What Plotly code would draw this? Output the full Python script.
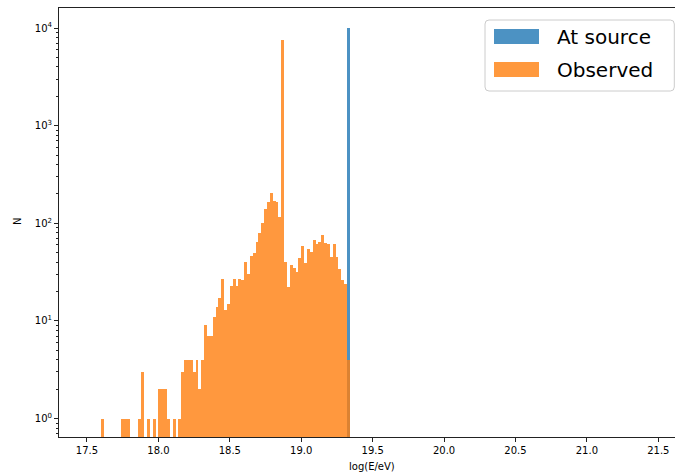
import plotly.graph_objects as go

# Histogram of log10 energy, fixed-width bins (lower edge of each non-empty bin + count)
bin_width = 0.02

observed_lo = [
    17.60, 17.74, 17.76, 17.78, 17.86, 17.88, 17.92, 17.96, 18.00, 18.02,
    18.04, 18.06, 18.10, 18.14, 18.16, 18.18, 18.20, 18.22, 18.24, 18.26,
    18.28, 18.30, 18.32, 18.34, 18.36, 18.38, 18.40, 18.42, 18.44, 18.46,
    18.48, 18.50, 18.52, 18.54, 18.56, 18.58, 18.60, 18.62, 18.64, 18.66,
    18.68, 18.70, 18.72, 18.74, 18.76, 18.78, 18.80, 18.82, 18.84, 18.86,
    18.88, 18.90, 18.92, 18.94, 18.96, 18.98, 19.00, 19.02, 19.04, 19.06,
    19.08, 19.10, 19.12, 19.14, 19.16, 19.18, 19.20, 19.22, 19.24, 19.26,
    19.28, 19.30, 19.32,
]
observed_n = [
    1, 1, 1, 1, 1, 3, 1, 1, 2, 2,
    2, 1, 1, 1, 3, 4, 4, 4, 3, 4,
    2, 4, 9, 7, 7, 11, 14, 17, 27, 13,
    15, 23, 27, 23, 27, 26, 40, 30, 46, 50,
    64, 80, 101, 139, 167, 205, 170, 165, 115, 7600,
    40, 22, 37, 35, 32, 44, 59, 39, 54, 51,
    67, 61, 64, 75, 63, 62, 45, 62, 45, 34,
    26, 24, 4,
]

source_lo = [19.32]
source_n = [10000]

series_names = ["At source", "Observed"]
series_colors = ["#1f77b4", "#ff7f0e"]
legend_swatch = ["#4c92c3", "#ff993e"]

x_ticks = [17.5, 18.0, 18.5, 19.0, 19.5, 20.0, 20.5, 21.0, 21.5]
x_tick_labels = ["17.5", "18.0", "18.5", "19.0", "19.5", "20.0", "20.5", "21.0", "21.5"]
y_ticks = [1, 10, 100, 1000, 10000]
y_tick_labels = ["10<sup>0</sup>", "10<sup>1</sup>", "10<sup>2</sup>",
                 "10<sup>3</sup>", "10<sup>4</sup>"]

FONT = "DejaVu Sans"
W, H = 675, 475
ML, MR, MT, MB = 59, 0, 8, 38
PW, PH = W - ML - MR, H - MT - MB


def px(x):
    return (x - ML) / PW


def py(y):
    return (H - MB - y) / PH


def centers(lo):
    return [v + bin_width / 2 for v in lo]


fig = go.Figure()
fig.add_trace(go.Bar(
    x=centers(source_lo), y=source_n, width=bin_width, name=series_names[0],
    marker=dict(color=series_colors[0], line=dict(width=0)), opacity=0.8,
))
fig.add_trace(go.Bar(
    x=centers(observed_lo), y=observed_n, width=bin_width, name=series_names[1],
    marker=dict(color=series_colors[1], line=dict(width=0)), opacity=0.8,
))

# minor ticks for the log axis
minor_vals = [m * 10 ** e for e in range(-1, 5) for m in range(2, 10)]

axis_col = "#222222"
fig.update_layout(
    width=W, height=H,
    margin=dict(l=ML, r=MR, t=MT, b=MB, pad=0),
    paper_bgcolor="white", plot_bgcolor="white",
    barmode="overlay", bargap=0, showlegend=False,
    font=dict(family=FONT, size=10, color="#000000"),
    xaxis=dict(
        range=[17.304, 21.617], tickmode="array", tickvals=x_ticks, ticktext=x_tick_labels,
        ticks="outside", ticklen=4, tickwidth=1, tickcolor=axis_col,
        showline=True, linecolor=axis_col, linewidth=1, mirror=True,
        showgrid=False, zeroline=False, tickfont=dict(size=10),
    ),
    yaxis=dict(
        type="log", range=[-0.189, 4.205], tickmode="array",
        tickvals=y_ticks, ticktext=y_tick_labels,
        ticks="outside", ticklen=4, tickwidth=1, tickcolor=axis_col,
        showline=True, linecolor=axis_col, linewidth=1, mirror=False,
        showgrid=False, zeroline=False, tickfont=dict(size=10),
        minor=dict(tickmode="array", tickvals=minor_vals, ticks="outside",
                   ticklen=2, tickwidth=0.8, tickcolor=axis_col),
    ),
)

# legend frame with rounded corners
x0, x1 = px(485), px(674.3)
y0, y1 = py(91), py(20)
rx, ry = 4 / PW, 4 / PH
frame = (f"M {x0+rx},{y0} L {x1-rx},{y0} Q {x1},{y0} {x1},{y0+ry} "
         f"L {x1},{y1-ry} Q {x1},{y1} {x1-rx},{y1} L {x0+rx},{y1} "
         f"Q {x0},{y1} {x0},{y1-ry} L {x0},{y0+ry} Q {x0},{y0} {x0+rx},{y0} Z")
shapes = [dict(type="path", xref="paper", yref="paper", path=frame,
               fillcolor="rgba(255,255,255,0.8)", line=dict(color="#cccccc", width=1),
               layer="above")]
annotations = []
row_top = [29, 62]
for name, sw, top in zip(series_names, legend_swatch, row_top):
    shapes.append(dict(type="rect", xref="paper", yref="paper",
                       x0=px(494), x1=px(539), y0=py(top + 15), y1=py(top),
                       fillcolor=sw, line=dict(width=0), layer="above"))
    annotations.append(dict(xref="paper", yref="paper", x=px(555), y=py(top + 8),
                            xanchor="left", yanchor="middle", showarrow=False,
                            text=name, font=dict(family=FONT, size=20, color="#000000")))

# axis titles
annotations.append(dict(xref="paper", yref="paper", x=px(372), y=py(466),
                        xanchor="center", yanchor="middle", showarrow=False,
                        text="log(E/eV)", font=dict(family=FONT, size=10, color="#000000")))
annotations.append(dict(xref="paper", yref="paper", x=px(17), y=py(222),
                        xanchor="center", yanchor="middle", showarrow=False, textangle=-90,
                        text="N", font=dict(family=FONT, size=10, color="#000000")))

fig.update_layout(shapes=shapes, annotations=annotations)
fig.write_html("out.html")
